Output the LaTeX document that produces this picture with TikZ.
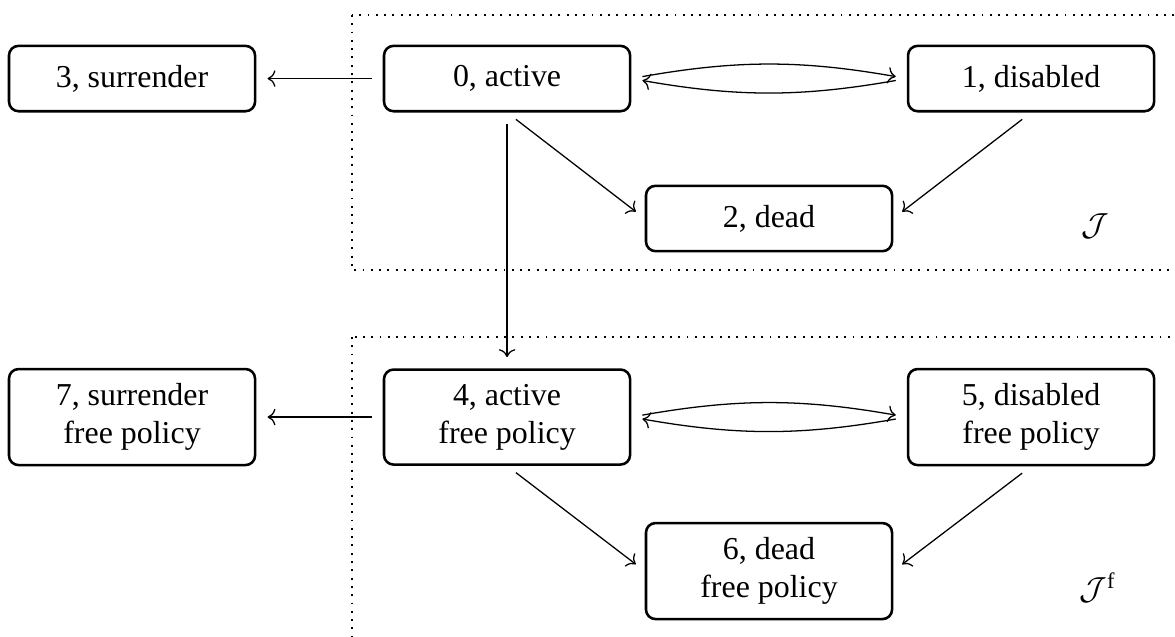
\documentclass[tikz,border=0pt]{standalone}
\usepackage{fontspec}
\setmainfont{Liberation Serif}
\usepackage{amsmath,amssymb}
\usetikzlibrary{arrows.meta,positioning,calc}

\tikzset{
  state/.style={draw, thick, rounded corners=3pt, align=center,
    minimum width=2.71cm, minimum height=0.72cm, inner sep=4.5pt},
  trans/.style={->, shorten >=3.5pt, shorten <=3.5pt},
  region/.style={dotted, semithick}
}

\begin{document}
\begin{tikzpicture}
  \useasboundingbox (0,0) rectangle (12.94,-7.015);

  % Regions
  \draw[region] (3.877,-0.165) rectangle (13.5,-2.974);
  \draw[region] (3.877,-3.711) rectangle (13.5,-7.5);
  \node at (12.06,-2.49) {$\mathcal{J}$};
  \node at (12.09,-6.47) {$\mathcal{J}^{\mathrm{f}}$};

  % States
  \node[state] (sur)   at (1.454,-0.865) {3, surrender};
  \node[state] (act)   at (5.584,-0.865) {0, active};
  \node[state] (dis)   at (11.355,-0.865) {1, disabled};
  \node[state] (dead)  at (8.469,-2.406) {2, dead};
  \node[state] (surf)  at (1.454,-4.593) {7, surrender\\free policy};
  \node[state] (actf)  at (5.584,-4.593) {4, active\\free policy};
  \node[state] (disf)  at (11.355,-4.593) {5, disabled\\free policy};
  \node[state] (deadf) at (8.469,-6.289) {6, dead\\free policy};

  % Transitions
  \draw[trans] (act.west) -- (sur.east);
  \draw[trans] (act.east) to[bend left=10] (dis.west);
  \draw[trans] (dis.west) to[bend left=10] (act.east);
  \draw[trans] (act.south) -- (dead.west);
  \draw[trans] (dis.south) -- (dead.east);
  \draw[trans] (act.south) -- (actf.north);

  \draw[trans] (actf.west) -- (surf.east);
  \draw[trans] (actf.east) to[bend left=10] (disf.west);
  \draw[trans] (disf.west) to[bend left=10] (actf.east);
  \draw[trans] (actf.south) -- (deadf.west);
  \draw[trans] (disf.south) -- (deadf.east);
\end{tikzpicture}
\end{document}
